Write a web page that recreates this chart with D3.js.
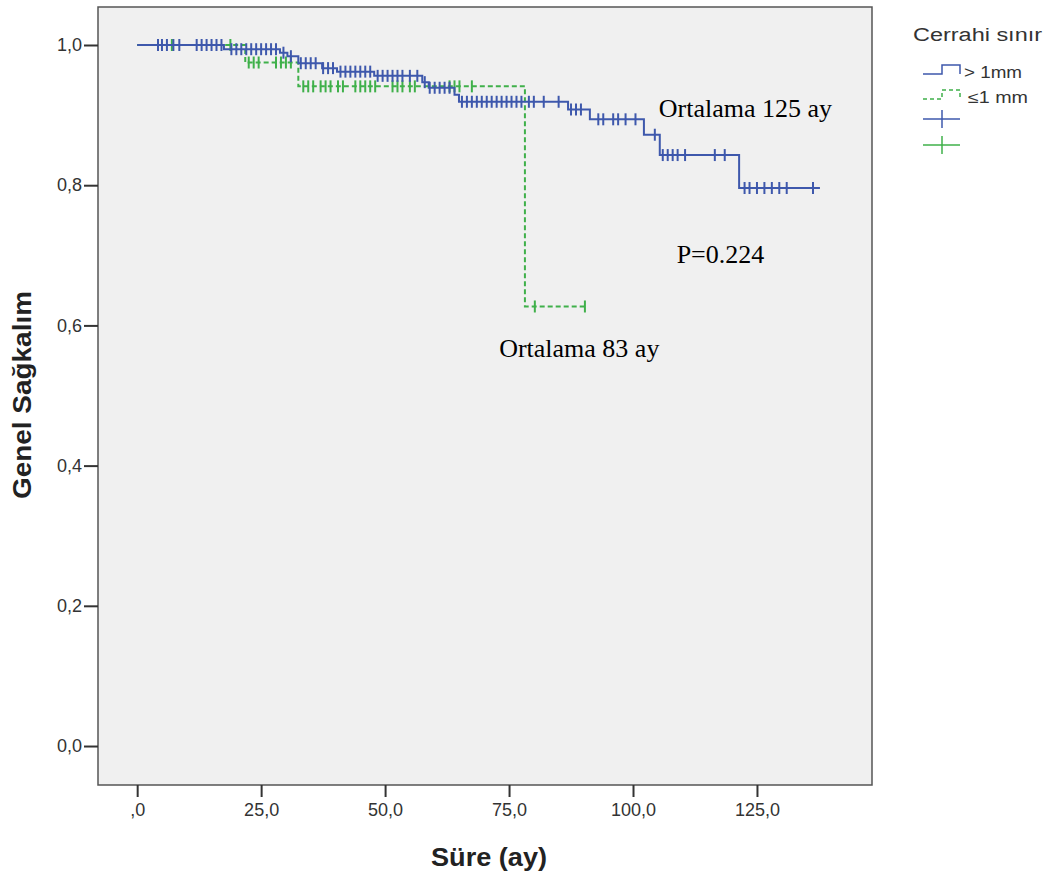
<!DOCTYPE html>
<html><head><meta charset="utf-8">
<script src="https://cdn.jsdelivr.net/npm/d3@7/dist/d3.min.js"></script>
<style>body{margin:0;background:#fff}svg{display:block}</style>
</head><body>
<script>
// ---- data ----
const xTicks = [0, 25, 50, 75, 100, 125];
const yTicks = [0, 0.2, 0.4, 0.6, 0.8, 1.0];

// group "> 1mm" (blue): step times and survival after each step
const blueTimes = [0, 17.5, 28.8, 30.3, 32.5, 37.3, 40.3, 47.8, 57.5, 58.8, 64.0, 64.9, 86.9, 91.3, 102.2, 105.4, 121.4, 137.7];
const blueSurv  = [1.0, 0.994, 0.989, 0.984, 0.974, 0.967, 0.962, 0.956, 0.947, 0.939, 0.929, 0.919, 0.908, 0.894, 0.872, 0.843, 0.796, 0.796];
const blueCensor = [4.2, 5, 6, 7.3, 8.5, 12, 13, 14, 15, 16, 17, 19, 20, 21, 22, 23, 24, 25, 26, 27, 28,
  29.5, 31, 33, 34, 35, 36, 37.5, 38.5, 39.5, 41, 42, 43, 44, 45, 46, 47, 48.5, 49.5, 50.5, 51.5, 52.5,
  53.5, 55, 56.5, 58, 59, 60, 61, 62, 63, 65.5, 66.5, 67.5, 68.5, 69.5, 70.5, 71.5, 72.5, 73.5, 74.5,
  75.5, 76.5, 77.5, 79, 80, 82, 85, 87.5, 88.5, 89.5, 93, 94, 96, 97, 98.5, 100.5, 104.4, 106, 107,
  108, 109, 110.5, 116.5, 118.5, 122.5, 123.5, 125, 126.5, 128, 129.5, 131, 136.3];

// group "≤1 mm" (green)
const greenTimes = [0, 21.8, 32.5, 78.2, 90.3];
const greenSurv  = [1.0, 0.975, 0.941, 0.627, 0.627];
const greenCensor = [7, 18.8, 22.5, 23.5, 24.5, 28, 29, 30, 31, 33.5, 34.5, 35.5, 37, 38, 39, 40.5, 41.5,
  44, 45, 46, 47, 48, 51.5, 52.5, 53.5, 55, 56, 63, 64, 65, 67.5, 80.2, 90.3];

const legendTitle = "Cerrahi sınır";
const legendLabels = ["> 1mm", "≤1 mm"];
const annotations = [
  {text: "Ortalama 125 ay", t: 105.2, s: 0.897},
  {text: "P=0.224", t: 108.8, s: 0.689},
  {text: "Ortalama 83 ay", t: 73.0, s: 0.555}
];

// ---- layout ----
const W = 1053, H = 880;
const BLUE = "#3e58ac", GREEN = "#3fb04a";
const svg = d3.select("body").append("svg").attr("width", W).attr("height", H);

const x = d3.scaleLinear().domain([-7.9, 148.2]).range([98, 872]);
const y = d3.scaleLinear().domain([-0.0556, 1.0542]).range([785, 7]);

svg.append("rect").attr("x", 98).attr("y", 7).attr("width", 774).attr("height", 778)
  .attr("fill", "#f0f0f0").attr("stroke", "#555").attr("stroke-width", 1.5);

// axes
const fmtX = d => d === 0 ? ",0" : d.toFixed(1).replace(".", ",");
const fmtY = d => d.toFixed(1).replace(".", ",");

const xAxis = svg.append("g").attr("transform", "translate(0,785)")
  .call(d3.axisBottom(x).tickValues(xTicks).tickFormat(fmtX).tickSize(12).tickPadding(6));
const yAxis = svg.append("g").attr("transform", "translate(98,0)")
  .call(d3.axisLeft(y).tickValues(yTicks).tickFormat(fmtY).tickSize(14).tickPadding(2));
[xAxis, yAxis].forEach(g => {
  g.select(".domain").remove();
  g.selectAll(".tick line").attr("stroke", "#333").attr("stroke-width", 2);
  g.selectAll(".tick text").attr("fill", "#333").style("font-family", "Arial, 'Liberation Sans', sans-serif").style("font-size", "18px");
});

// step curves
const line = d3.line().x(d => x(d[0])).y(d => y(d[1])).curve(d3.curveStepAfter);
function survAt(times, surv, t) {
  let v = surv[0];
  for (let i = 0; i < times.length; i++) if (times[i] <= t) v = surv[i];
  return v;
}
function drawGroup(times, surv, censor, color, dash) {
  const pts = times.map((t, i) => [t, surv[i]]);
  svg.append("path").attr("d", line(pts)).attr("fill", "none")
    .attr("stroke", color).attr("stroke-width", 2).attr("stroke-dasharray", dash);
  svg.append("g").selectAll("line").data(censor).join("line")
    .attr("x1", d => x(d)).attr("x2", d => x(d))
    .attr("y1", d => y(survAt(times, surv, d)) - 6)
    .attr("y2", d => y(survAt(times, surv, d)) + 6)
    .attr("stroke", color).attr("stroke-width", 2);
}
drawGroup(greenTimes, greenSurv, greenCensor, GREEN, "5,3");
drawGroup(blueTimes, blueSurv, blueCensor, BLUE, null);

// annotations
svg.append("g").selectAll("text").data(annotations).join("text")
  .attr("x", d => x(d.t)).attr("y", d => y(d.s))
  .style("font-family", "'Liberation Serif', 'Times New Roman', serif").style("font-size", "26px")
  .attr("fill", "#000").text(d => d.text);

// axis titles
svg.append("text").attr("x", 489).attr("y", 866).attr("text-anchor", "middle")
  .style("font-family", "Arial, 'Liberation Sans', sans-serif").style("font-weight", "bold").style("font-size", "25px")
  .attr("fill", "#222").attr("textLength", 116).attr("lengthAdjust", "spacingAndGlyphs").text("Süre (ay)");
svg.append("text").attr("transform", "translate(31,395) rotate(-90)").attr("text-anchor", "middle")
  .style("font-family", "Arial, 'Liberation Sans', sans-serif").style("font-weight", "bold").style("font-size", "25px")
  .attr("fill", "#222").attr("textLength", 208).attr("lengthAdjust", "spacingAndGlyphs").text("Genel Sağkalım");

// legend
const lg = svg.append("g").style("font-family", "Arial, 'Liberation Sans', sans-serif").attr("fill", "#333");
lg.append("text").attr("x", 913).attr("y", 41).style("font-size", "18px")
  .attr("textLength", 129).attr("lengthAdjust", "spacingAndGlyphs").text(legendTitle);
const stepSym = (yl, yh) => `M923,${yl}H942V${yh}H960V${yl}`;
lg.append("path").attr("d", stepSym(74, 65)).attr("fill", "none").attr("stroke", BLUE).attr("stroke-width", 1.5);
lg.append("path").attr("d", stepSym(99, 90)).attr("fill", "none").attr("stroke", GREEN).attr("stroke-width", 1.5).attr("stroke-dasharray", "4,3");
lg.append("text").attr("x", 964).attr("y", 78).style("font-size", "16px")
  .attr("textLength", 58).attr("lengthAdjust", "spacingAndGlyphs").text(legendLabels[0]);
lg.append("text").attr("x", 968).attr("y", 103).style("font-size", "16px")
  .attr("textLength", 60).attr("lengthAdjust", "spacingAndGlyphs").text(legendLabels[1]);
[[119, BLUE], [145, GREEN]].forEach(([yy, c]) => {
  lg.append("line").attr("x1", 923).attr("x2", 960).attr("y1", yy).attr("y2", yy).attr("stroke", c).attr("stroke-width", 1.5);
  lg.append("line").attr("x1", 942).attr("x2", 942).attr("y1", yy - 9).attr("y2", yy + 9).attr("stroke", c).attr("stroke-width", 1.5);
});
</script>
</body></html>
